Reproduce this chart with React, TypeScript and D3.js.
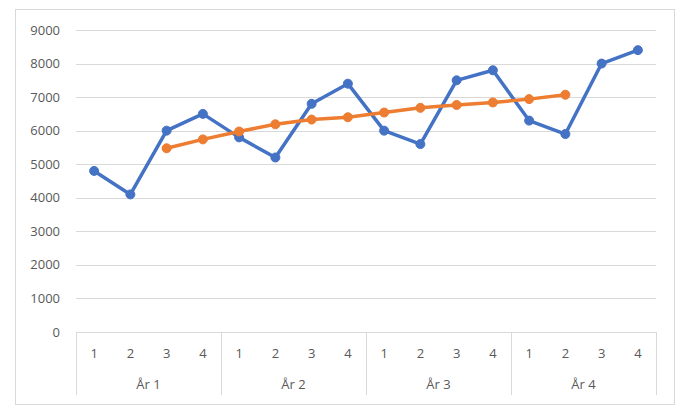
import React from "react";
import * as d3 from "d3";

const years = ["År 1", "År 2", "År 3", "År 4"];
const quarters = ["1", "2", "3", "4"];
const seriesValues = [4800, 4100, 6000, 6500, 5800, 5200, 6800, 7400, 6000, 5600, 7500, 7800, 6300, 5900, 8000, 8400];
const movingAvg: (number | null)[] = [null, null, 5475, 5740, 5975, 6190, 6330, 6400, 6540, 6680, 6765, 6840, 6940, 7070, null, null];
const yTicks = [0, 1000, 2000, 3000, 4000, 5000, 6000, 7000, 8000, 9000];

const W = 687, H = 416;
const plot = { left: 76, right: 656, top: 30, bottom: 332 };
const BLUE = "#4472C4", ORANGE = "#ED7D31", GRID = "#d9d9d9", TEXT = "#595959";
const FONT = "'Open Sans', 'Liberation Sans', sans-serif";
const FS = 13;

export default function App() {
  const keys = seriesValues.map((_, i) => String(i));
  const x = d3.scaleBand<string>().domain(keys).range([plot.left, plot.right]);
  const bw = x.bandwidth();
  const cx = (i: number) => (x(String(i)) as number) + bw / 2;
  const y = d3.scaleLinear().domain([0, 9000]).range([plot.bottom, plot.top]);

  const line = d3.line<number | null>()
    .defined((d) => d !== null)
    .x((_, i) => cx(i))
    .y((d) => y(d as number));

  const sepBottom = 395;
  const groupW = bw * quarters.length;

  return (
    <svg width={W} height={H} style={{ position: "absolute", left: 0, top: 0, background: "#fff" }}>
      <rect x={15.5} y={9.5} width={659} height={395} fill="#fff" stroke={GRID} strokeWidth={1} />
      {yTicks.map((t) => (
        <g key={t}>
          {t > 0 && <line x1={plot.left} x2={plot.right} y1={Math.round(y(t)) + 0.5} y2={Math.round(y(t)) + 0.5} stroke={GRID} strokeWidth={1} />}
          <text x={60} y={y(t)} dy="0.35em" textAnchor="end" fontFamily={FONT} fontSize={FS} fill={TEXT}>{t}</text>
        </g>
      ))}
      <line x1={plot.left} x2={plot.right} y1={plot.bottom + 0.5} y2={plot.bottom + 0.5} stroke={GRID} strokeWidth={1} />
      {d3.range(years.length + 1).map((g) => {
        const xx = Math.round(plot.left + g * groupW) + 0.5;
        return <line key={g} x1={xx} x2={xx} y1={plot.bottom} y2={sepBottom} stroke={GRID} strokeWidth={1} />;
      })}
      {seriesValues.map((_, i) => (
        <text key={i} x={cx(i)} y={353} dy="0.35em" textAnchor="middle" fontFamily={FONT} fontSize={FS} fill={TEXT}>
          {quarters[i % quarters.length]}
        </text>
      ))}
      {years.map((yr, g) => (
        <text key={yr} x={plot.left + g * groupW + groupW / 2} y={384} dy="0.35em" textAnchor="middle" fontFamily={FONT} fontSize={FS} fill={TEXT}>
          {yr}
        </text>
      ))}
      <path d={line(seriesValues) || ""} fill="none" stroke={BLUE} strokeWidth={3.5} strokeLinejoin="round" strokeLinecap="round" />
      {seriesValues.map((v, i) => (
        <circle key={i} cx={cx(i)} cy={y(v)} r={4.5} fill={BLUE} stroke={BLUE} />
      ))}
      <path d={line(movingAvg) || ""} fill="none" stroke={ORANGE} strokeWidth={3.5} strokeLinejoin="round" strokeLinecap="round" />
      {movingAvg.map((v, i) => v === null ? null : (
        <circle key={i} cx={cx(i)} cy={y(v)} r={4.5} fill={ORANGE} stroke={ORANGE} />
      ))}
    </svg>
  );
}
